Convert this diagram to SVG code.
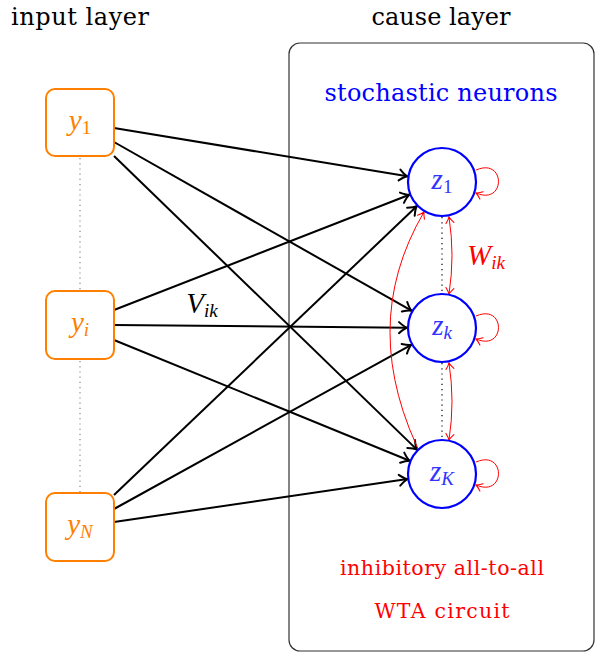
<svg xmlns="http://www.w3.org/2000/svg" width="596" height="655" viewBox="0 0 596 655">
<style>
text{font-family:"DejaVu Serif","Liberation Serif",serif}
.math{font-family:"Liberation Serif","DejaVu Serif",serif;font-style:italic}
.ttl{font-size:24px;fill:#000}
.ynode{fill:#fff;stroke:#ff8000;stroke-width:2}
.ylab{font-size:29px;fill:#ff8000}
.znode{fill:#fff;stroke:#0000ff;stroke-width:2.2}
.zlab{font-size:29px;fill:#3333ff}
.sub{font-size:19px}
.edge{stroke:#000;stroke-width:2;fill:none;marker-end:url(#ah)}
.inh{stroke:#ff0000;stroke-width:1;fill:none;marker-end:url(#ahr)}
.inh2{stroke:#ff0000;stroke-width:1;fill:none;marker-end:url(#ahr);marker-start:url(#ahrs)}
</style>
<defs>
<marker id="ah" markerUnits="userSpaceOnUse" markerWidth="14" markerHeight="14" refX="0" refY="0" viewBox="-10 -7 12 14" orient="auto">
<path d="M-8,-5.5 Q-3,-1 0,0 Q-3,1 -8,5.5" fill="none" stroke="#000" stroke-width="2" stroke-linecap="round"/>
</marker>
<marker id="ahr" markerUnits="userSpaceOnUse" markerWidth="12" markerHeight="12" refX="0" refY="0" viewBox="-8 -6 10 12" orient="auto">
<path d="M-6,-4 Q-2,-0.8 0,0 Q-2,0.8 -6,4" fill="none" stroke="#ff0000" stroke-width="1.1" stroke-linecap="round"/>
</marker>
<marker id="ahrs" markerUnits="userSpaceOnUse" markerWidth="12" markerHeight="12" refX="0" refY="0" viewBox="-8 -6 10 12" orient="auto-start-reverse">
<path d="M-6,-4 Q-2,-0.8 0,0 Q-2,0.8 -6,4" fill="none" stroke="#ff0000" stroke-width="1.1" stroke-linecap="round"/>
</marker>
</defs>

<text class="ttl" x="80" y="25" text-anchor="middle" textLength="138">input layer</text>
<text class="ttl" x="441" y="25" text-anchor="middle" textLength="139">cause layer</text>

<g id="cause-layer">
<rect x="289" y="43" width="305" height="608" rx="11" fill="none" stroke="#333" stroke-width="1.2"/>
<text x="441" y="101" text-anchor="middle" font-size="24" fill="#0000ff" textLength="233">stochastic neurons</text>
<text x="442" y="575" text-anchor="middle" font-size="20.5" fill="#ff0000" textLength="204">inhibitory all-to-all</text>
<text x="442" y="618" text-anchor="middle" font-size="20.5" fill="#ff0000" textLength="135">WTA circuit</text>
</g>

<g id="dots">
<line x1="80" y1="158" x2="80" y2="291" stroke="#888" stroke-width="1.2" stroke-dasharray="1.2,4"/>
<line x1="80" y1="361" x2="80" y2="493" stroke="#888" stroke-width="1.2" stroke-dasharray="1.2,4"/>
<line x1="442" y1="217" x2="442" y2="294" stroke="#000" stroke-width="1.2" stroke-dasharray="1.2,4"/>
<line x1="442" y1="363" x2="442" y2="440" stroke="#000" stroke-width="1.2" stroke-dasharray="1.2,4"/>
</g>

<g id="connectors">
<line class="edge" x1="114" y1="128" x2="407.4" y2="176.3"/>
<line class="edge" x1="114" y1="142" x2="411.5" y2="310.7"/>
<line class="edge" x1="114" y1="156" x2="416.9" y2="449.6"/>
<line class="edge" x1="114" y1="310" x2="409.4" y2="194.8"/>
<line class="edge" x1="114" y1="325" x2="407" y2="327.7"/>
<line class="edge" x1="114" y1="340" x2="409.6" y2="460.7"/>
<line class="edge" x1="114" y1="495" x2="416.7" y2="206.2"/>
<line class="edge" x1="114" y1="509" x2="411.3" y2="344.9"/>
<line class="edge" x1="114" y1="522" x2="407.4" y2="479.1"/>
<path class="inh2" d="M449,217 Q455,255.5 449,294"/>
<path class="inh2" d="M449,363 Q455,401.5 449,440"/>
<path class="inh2" d="M424,212 Q356,328 424,461"/>
<path class="inh" d="M476,170 C506,157 506,206 476,193"/>
<path class="inh" d="M476,316 C506,303 506,352 476,339"/>
<path class="inh" d="M476,462 C506,449 506,498 476,485"/>
<text class="math" x="202" y="313" text-anchor="middle" font-size="29" fill="#000">V<tspan class="sub" dy="4">ik</tspan></text>
<text class="math" x="486" y="265" text-anchor="middle" font-size="29" fill="#ff0000">W<tspan class="sub" dy="4">ik</tspan></text>
</g>

<g id="y1">
<rect class="ynode" x="46" y="89" width="68" height="67" rx="9"/>
<text class="math ylab" x="80" y="130" text-anchor="middle">y<tspan class="sub" font-style="normal" dy="4">1</tspan></text>
</g>
<g id="yi">
<rect class="ynode" x="46" y="291" width="68" height="68" rx="9"/>
<text class="math ylab" x="80" y="332" text-anchor="middle">y<tspan class="sub" dy="4">i</tspan></text>
</g>
<g id="yN">
<rect class="ynode" x="46" y="493" width="68" height="68" rx="9"/>
<text class="math ylab" x="80" y="534" text-anchor="middle">y<tspan class="sub" dy="4">N</tspan></text>
</g>

<g id="z1">
<circle class="znode" cx="442" cy="182" r="34"/>
<text class="math zlab" x="442" y="189" text-anchor="middle">z<tspan class="sub" font-style="normal" dy="4">1</tspan></text>
</g>
<g id="zk">
<circle class="znode" cx="442" cy="328" r="34"/>
<text class="math zlab" x="442" y="335" text-anchor="middle">z<tspan class="sub" dy="4">k</tspan></text>
</g>
<g id="zK">
<circle class="znode" cx="442" cy="474" r="34"/>
<text class="math zlab" x="442" y="481" text-anchor="middle">z<tspan class="sub" dy="4">K</tspan></text>
</g>
</svg>
